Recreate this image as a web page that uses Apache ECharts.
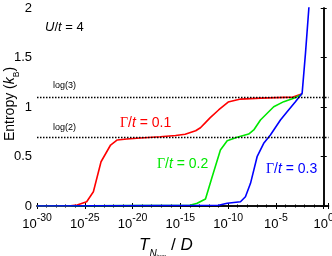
<!DOCTYPE html>
<html><head><meta charset="utf-8">
<script src="https://cdn.jsdelivr.net/npm/echarts@6/dist/echarts.min.js"></script>
<style>html,body{margin:0;padding:0;background:#fff}#c{width:332px;height:256px}</style>
</head><body><div id="c"></div>
<script>
// x values are log10(T/D); y values are entropy in units of k_B
const redLogT = [-30, -26.5, -25.8, -24.8, -24.1, -23.3, -22.3, -21.6, -20.6, -19.2, -17.1, -15.5, -14.5, -13.4, -12.9, -12.4, -11.9, -11.0, -10.0, -8.7, -6.6, -3.2, -2.25];
const redS    = [0, 0.002, 0.01, 0.043, 0.144, 0.447, 0.616, 0.667, 0.677, 0.687, 0.700, 0.712, 0.725, 0.76, 0.79, 0.84, 0.89, 0.97, 1.05, 1.08, 1.09, 1.10, 1.135];
const greenLogT = [-30, -14, -13.24, -12.37, -11.67, -10.81, -10.1, -9.06, -7.85, -7.32, -6.62, -5.23, -4.18, -3.14, -2.26];
const greenS    = [0, 0.008, 0.027, 0.071, 0.296, 0.566, 0.66, 0.694, 0.727, 0.768, 0.869, 1.003, 1.054, 1.088, 1.129];
const blueLogT = [-30, -11, -10.1, -8.71, -8.19, -7.66, -6.97, -6.28, -5.58, -5.23, -4.53, -3.83, -2.96, -2.26, -1.91, -1.57, -1.3];
const blueS    = [0, 0.008, 0.027, 0.043, 0.094, 0.229, 0.498, 0.633, 0.717, 0.768, 0.869, 0.953, 1.054, 1.138, 1.542, 1.98, 2.35];
const seriesNames = ['Γ/t = 0.1', 'Γ/t = 0.2', 'Γ/t = 0.3'];
const seriesColors = ['#ff0000', '#00e800', '#0000ff'];
const levelValues = [Math.log(3), Math.log(2)];
const levelLabels = ['log(3)', 'log(2)'];
const xMinExp = -30, xMaxExp = 0.5, xStep = 5;
const yMin = 0, yMax = 2, yStep = 0.5;

const zip = (a, b) => a.map((v, i) => [v, b[i]]);
const SANS = 'Arial, "Liberation Sans", sans-serif';
const SERIF = '"Times New Roman", "Liberation Serif", serif';

const chart = echarts.init(document.getElementById('c'), null, {renderer: 'canvas'});
const axisLine = {show: true, lineStyle: {color: '#000', width: 1.5}};
const option = {
  animation: false,
  backgroundColor: '#fff',
  grid: {left: 37, right: 3.5, top: 8, bottom: 50, containLabel: false, outerBoundsMode: 'none'},
  xAxis: [{
    type: 'value', min: xMinExp, max: xMaxExp, interval: xStep, position: 'bottom',
    axisLine: axisLine, splitLine: {show: false},
    axisTick: {inside: true, length: 3, lineStyle: {color: '#000'}},
    minorTick: {show: true, splitNumber: 5, length: 1.5, lineStyle: {color: '#000'}},
    axisLabel: {
      margin: 7, showMaxLabel: false, hideOverlap: false, color: '#000',
      formatter: v => '{b|10}{s|' + v + '}',
      rich: {
        b: {fontSize: 13, fontFamily: SANS, lineHeight: 18, verticalAlign: 'bottom', color: '#000'},
        s: {fontSize: 10.5, fontFamily: SANS, lineHeight: 11, verticalAlign: 'top', color: '#000'}
      }
    }
  }, {
    type: 'value', min: xMinExp, max: xMaxExp, interval: xStep, position: 'top',
    axisLine: axisLine, splitLine: {show: false}, axisLabel: {show: false},
    axisTick: {inside: true, length: 3, lineStyle: {color: '#000'}},
    minorTick: {show: true, splitNumber: 5, length: 1.5, lineStyle: {color: '#000'}}
  }],
  yAxis: [{
    type: 'value', min: yMin, max: yMax, interval: yStep, position: 'left',
    axisLine: axisLine, splitLine: {show: false},
    axisTick: {inside: true, length: 3, lineStyle: {color: '#000'}},
    axisLabel: {margin: 5, fontSize: 13, fontFamily: SANS, color: '#000'}
  }, {
    type: 'value', min: yMin, max: yMax, interval: yStep, position: 'right',
    axisLine: axisLine, splitLine: {show: false}, axisLabel: {show: false},
    axisTick: {inside: true, length: 3, lineStyle: {color: '#000'}}
  }],
  series: [
    {name: seriesNames[0], type: 'line', data: zip(redLogT, redS), showSymbol: false, clip: true,
     lineStyle: {color: seriesColors[0], width: 1.6}, itemStyle: {color: seriesColors[0]},
     markLine: {silent: true, symbol: 'none', label: {show: false},
       lineStyle: {color: '#000', type: [1.5, 1.5], width: 1.3},
       data: levelValues.map(v => ({yAxis: v}))}},
    {name: seriesNames[1], type: 'line', data: zip(greenLogT, greenS), showSymbol: false, clip: true,
     lineStyle: {color: seriesColors[1], width: 1.6}, itemStyle: {color: seriesColors[1]}},
    {name: seriesNames[2], type: 'line', data: zip(blueLogT, blueS), showSymbol: false, clip: true,
     lineStyle: {color: seriesColors[2], width: 1.6}, itemStyle: {color: seriesColors[2]}}
  ],
  graphic: [
    {type: 'text', x: 12, y: 104, rotation: Math.PI / 2, style: {
      text: '{a|Entropy (}{i|k}{sub|B}{a|)}', align: 'center', verticalAlign: 'middle',
      rich: {
        a: {fontSize: 14, fontFamily: SANS, fill: '#000', lineHeight: 18, verticalAlign: 'top'},
        i: {fontSize: 14, fontFamily: SANS, fontStyle: 'italic', fill: '#000', lineHeight: 18, verticalAlign: 'top'},
        sub: {fontSize: 8.5, fontFamily: SANS, fill: '#000', lineHeight: 18, verticalAlign: 'bottom'}
      }}},
    {type: 'text', left: 45, top: 21, style: {
      text: '{i|U}{n|/}{i|t}{n| = 4}',
      rich: {i: {fontSize: 13, fontFamily: SANS, fontStyle: 'italic', fill: '#000'},
             n: {fontSize: 13, fontFamily: SANS, fill: '#000'}}}},
    {type: 'text', left: 53, top: 81, style: {text: levelLabels[0], font: '9px ' + SANS, fill: '#000'}},
    {type: 'text', left: 53, top: 123, style: {text: levelLabels[1], font: '9px ' + SANS, fill: '#000'}},
    ...[[120, 116, 0], [157, 157, 1], [266, 162, 2]].map(([x, y, k]) => ({
      type: 'text', left: x, top: y, style: {
        text: '{g|Γ}{n|/}{i|t}{n|' + seriesNames[k].slice(3) + '}',
        rich: {g: {fontSize: 14, fontFamily: SERIF, fill: seriesColors[k]},
               n: {fontSize: 14, fontFamily: SANS, fill: seriesColors[k]},
               i: {fontSize: 14, fontFamily: SANS, fontStyle: 'italic', fill: seriesColors[k]}}}
    })),
    {type: 'text', left: 139, top: 237, style: {
      text: '{t|T}{n|N}{m|imp}{d| / }{t|D}',
      rich: {t: {fontSize: 17, fontFamily: SANS, fontStyle: 'italic', fill: '#000', lineHeight: 22, verticalAlign: 'top'},
             d: {fontSize: 17, fontFamily: SANS, fill: '#000', lineHeight: 22, verticalAlign: 'top'},
             n: {fontSize: 10, fontFamily: SANS, fontStyle: 'italic', fill: '#000', lineHeight: 22, verticalAlign: 'bottom'},
             m: {fontSize: 6, fontFamily: SANS, fill: '#000', lineHeight: 20, verticalAlign: 'bottom'}}}}
  ]
};
chart.setOption(option);
</script>
</body></html>
